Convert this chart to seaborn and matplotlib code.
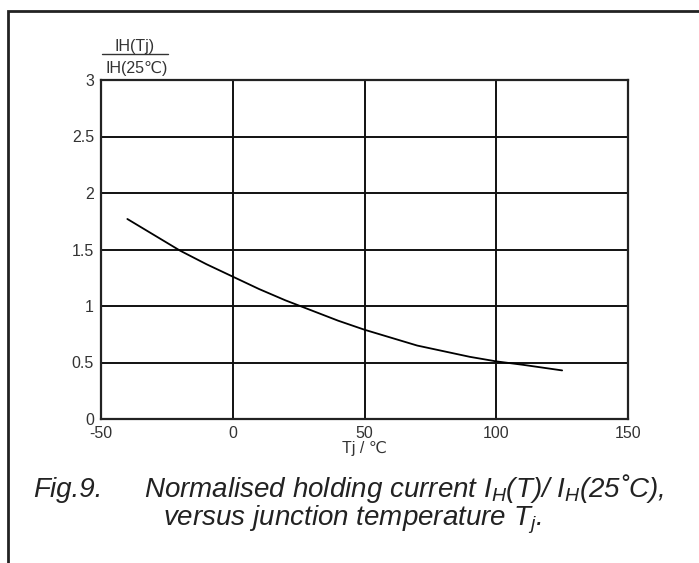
import matplotlib
matplotlib.use("Agg")
import matplotlib.pyplot as plt
from matplotlib.patches import Rectangle
import pandas as pd
import seaborn as sns

# values
tj = [-40, -30, -20, -10, 0, 10, 20, 30, 40, 50, 60, 70, 80, 90, 100, 110, 125]
ih_ratio = [1.77, 1.63, 1.49, 1.37, 1.26, 1.15, 1.05, 0.96, 0.87, 0.79,
            0.72, 0.65, 0.60, 0.55, 0.51, 0.48, 0.43]
x_ticks = [-50, 0, 50, 100, 150]
y_ticks = [0, 0.5, 1, 1.5, 2, 2.5, 3]
y_tick_labels = ["0", "0.5", "1", "1.5", "2", "2.5", "3"]

df = pd.DataFrame({"tj": tj, "ratio": ih_ratio})

sns.set_theme(style="white")
plt.rcParams["font.family"] = ["Liberation Sans", "DejaVu Sans"]
plt.rcParams["axes.unicode_minus"] = False
plt.rcParams["mathtext.fontset"] = "custom"
plt.rcParams["mathtext.it"] = "Liberation Sans:italic"
plt.rcParams["mathtext.rm"] = "Liberation Sans:italic"

fig = plt.figure(figsize=(6.99, 5.63), dpi=100)
ax = fig.add_axes([101 / 699, 1 - 419 / 563, 527 / 699, 339 / 563])

sns.lineplot(data=df, x="tj", y="ratio", ax=ax, color="black", linewidth=1.3)

ax.set_xlim(-50, 150)
ax.set_ylim(0, 3)
ax.set_xticks(x_ticks)
ax.set_yticks(y_ticks)
ax.set_yticklabels(y_tick_labels)
ax.grid(True, color="#111111", linewidth=1.4)
for s in ax.spines.values():
    s.set_color("#222222")
    s.set_linewidth(1.6)
ax.tick_params(length=0, labelsize=11.5, labelcolor="#333333", pad=5)
ax.set_xlabel("Tj / \u2103", fontsize=11.5, color="#333333", labelpad=0)
ax.set_ylabel("")

# stacked ratio label above the y axis
fig.text(135 / 699, 1 - 46 / 563, "IH(Tj)", ha="center", va="center", fontsize=11.5, color="#333333")
fig.text(137 / 699, 1 - 69 / 563, "IH(25\u2103)", ha="center", va="center", fontsize=11.5, color="#333333")
fig.add_artist(plt.Line2D([102 / 699, 168 / 699], [1 - 54 / 563, 1 - 54 / 563],
                          color="#333333", linewidth=1.0, transform=fig.transFigure))

# caption
cap = dict(style="italic", color="#222222", va="baseline", fontsize=20)
fig.text(33 / 699, 1 - 497 / 563, "Fig.9.", ha="left", **cap)
fig.text(144 / 699, 1 - 497 / 563,
         "Normalised holding current $I_H$(T)/ $I_H$(25\u02daC),",
         ha="left", **cap)
fig.text(352 / 699, 1 - 525 / 563,
         "versus junction temperature $T_j$.",
         ha="center", **cap)

# outer frame, cropped at right and bottom
fig.patches.append(Rectangle((8 / 699, -0.05), 1.2, 1 - 11 / 563 + 0.05,
                             transform=fig.transFigure, fill=False,
                             edgecolor="#222222", linewidth=2.0))

fig.savefig("out.png", dpi=100, facecolor="white")
